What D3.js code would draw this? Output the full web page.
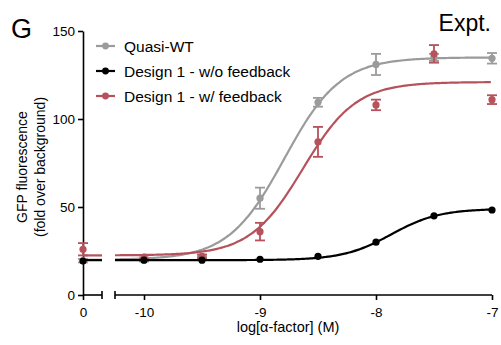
<!DOCTYPE html>
<html>
<head>
<meta charset="utf-8">
<script src="https://cdn.jsdelivr.net/npm/d3@7"></script>
<style>
  body { margin: 0; background: #fff; }
  svg { display: block; font-family: "Liberation Sans", Arial, sans-serif; }
</style>
</head>
<body>
<svg id="chart" width="501" height="345"></svg>
<script>
// log[alpha-factor] doses, 0 = no alpha-factor (drawn on the split-off segment)
var doses = [0, -10, -9.5, -9, -8.5, -8, -7.5, -7];

var wtMean = [19.5, 20, 21, 55, 109.5, 131, 135, 134.5];
var wtErr = [1, 1, 1, 6, 2.5, 6, 2, 3];
var noFbMean = [19.3, 19.8, 19.8, 20.3, 22, 30, 45, 48.3];
var noFbErr = [0, 0, 0, 0, 0, 0, 0, 0];
var fbMean = [26, 21.5, 22, 36, 87, 108, 137, 111];
var fbErr = [3.5, 1, 1, 5, 8.5, 3, 5, 2.5];

// Hill fit: [bottom, top, logEC50, slope]
var wtFit = [20, 135, -8.79, 1.8];
var noFbFit = [19.8, 49, -7.87, 2.1];
var fbFit = [22.5, 121, -8.63, 1.9];

var seriesNames = ["Quasi-WT", "Design 1 - w/o feedback", "Design 1 - w/ feedback"];
var seriesColors = ["#9b9b9b", "#000000", "#b5525c"];
var yTicks = [0, 50, 100, 150];
var xTicks = [-10, -9, -8, -7];

var svg = d3.select("#chart");

var y = d3.scaleLinear().domain([0, 150]).range([295, 31]);
var x = d3.scaleLinear().domain([-10.25, -7]).range([115, 492]);
var xZero = d3.scaleLinear().domain([0, 1]).range([83, 102]);

function xPos(d) { return d === 0 ? xZero(0) : x(d); }
function hill(p, lx) { return p[0] + (p[1] - p[0]) / (1 + Math.pow(10, (p[2] - lx) * p[3])); }
var plain = function (d) { return String(d); };

// axes
var yAxis = svg.append("g").attr("transform", "translate(83,0)")
  .call(d3.axisLeft(y).tickValues(yTicks).tickFormat(plain).tickSize(5).tickSizeOuter(0));
var xAxis = svg.append("g").attr("transform", "translate(0,295)")
  .call(d3.axisBottom(x).tickValues(xTicks).tickFormat(plain).tickSize(5).tickSizeOuter(0));
var xAxis0 = svg.append("g").attr("transform", "translate(0,295)")
  .call(d3.axisBottom(xZero).tickValues([0]).tickFormat(plain).tickSize(5).tickSizeOuter(0));
xAxis.select(".domain").remove();
xAxis0.select(".domain").remove();

[yAxis, xAxis, xAxis0].forEach(function (g) {
  g.selectAll("path, line").attr("stroke", "#000").attr("stroke-width", 1.6);
  g.selectAll("text").attr("font-size", 13.5).attr("fill", "#000")
    .attr("font-family", "'Liberation Sans', Arial, sans-serif");
});
xAxis.selectAll("text").attr("dy", "1.05em");
xAxis0.selectAll("text").attr("dy", "1.05em");

// broken x axis segments
var seg = svg.append("g").attr("stroke", "#000").attr("stroke-width", 1.6);
seg.append("line").attr("x1", xZero(0)).attr("x2", xZero(1)).attr("y1", y(0)).attr("y2", y(0));
seg.append("line").attr("x1", xZero(1)).attr("x2", xZero(1)).attr("y1", y(0) - 4).attr("y2", y(0) + 4);
seg.append("line").attr("x1", x(-10.25)).attr("x2", x(-7)).attr("y1", y(0)).attr("y2", y(0));
seg.append("line").attr("x1", x(-10.25)).attr("x2", x(-10.25)).attr("y1", y(0) - 4).attr("y2", y(0) + 4);

// fitted curves
var grid = d3.range(-10.25, -6.999, 0.02);
var line = d3.line().x(function (d) { return x(d[0]); }).y(function (d) { return y(d[1]); }).curve(d3.curveBasis);

var series = [
  { mean: wtMean, err: wtErr, fit: wtFit, color: seriesColors[0] },
  { mean: fbMean, err: fbErr, fit: fbFit, color: seriesColors[2] },
  { mean: noFbMean, err: noFbErr, fit: noFbFit, color: seriesColors[1] }
];

series.forEach(function (s) {
  var g = svg.append("g");
  g.append("path")
    .attr("d", line(grid.map(function (lx) { return [lx, hill(s.fit, lx)]; })))
    .attr("fill", "none").attr("stroke", s.color).attr("stroke-width", 2.2);
  // baseline piece on the zero-dose segment
  g.append("line")
    .attr("x1", xZero(0)).attr("x2", xZero(1))
    .attr("y1", y(s.fit[0])).attr("y2", y(s.fit[0]))
    .attr("stroke", s.color).attr("stroke-width", 2.2);

  var pts = doses.map(function (d, i) { return { d: d, m: s.mean[i], e: s.err[i] }; });
  var eb = g.selectAll(".eb").data(pts.filter(function (p) { return p.e > 0; })).enter().append("g")
    .attr("stroke", s.color).attr("stroke-width", 1.8);
  eb.append("line")
    .attr("x1", function (p) { return xPos(p.d); }).attr("x2", function (p) { return xPos(p.d); })
    .attr("y1", function (p) { return y(p.m - p.e); }).attr("y2", function (p) { return y(p.m + p.e); });
  eb.append("line")
    .attr("x1", function (p) { return xPos(p.d) - 5; }).attr("x2", function (p) { return xPos(p.d) + 5; })
    .attr("y1", function (p) { return y(p.m + p.e); }).attr("y2", function (p) { return y(p.m + p.e); });
  eb.append("line")
    .attr("x1", function (p) { return xPos(p.d) - 5; }).attr("x2", function (p) { return xPos(p.d) + 5; })
    .attr("y1", function (p) { return y(p.m - p.e); }).attr("y2", function (p) { return y(p.m - p.e); });

  g.selectAll("circle").data(pts).enter().append("circle")
    .attr("cx", function (p) { return xPos(p.d); })
    .attr("cy", function (p) { return y(p.m); })
    .attr("r", 3.6).attr("fill", s.color);
});

// legend
var leg = svg.append("g");
seriesNames.forEach(function (name, i) {
  var ly = 46 + i * 25;
  leg.append("line").attr("x1", 96).attr("x2", 115).attr("y1", ly).attr("y2", ly)
    .attr("stroke", seriesColors[i]).attr("stroke-width", 2.2);
  leg.append("circle").attr("cx", 105.5).attr("cy", ly).attr("r", 3.4).attr("fill", seriesColors[i]);
  leg.append("text").attr("x", 124).attr("y", ly + 5.5).attr("font-size", 15.5).text(name);
});

// titles
svg.append("text").attr("x", 11).attr("y", 38).attr("font-size", 27).text("G");
svg.append("text").attr("x", 491).attr("y", 31).attr("font-size", 23).attr("text-anchor", "end").text("Expt.");
svg.append("text").attr("x", 288).attr("y", 332).attr("font-size", 14.5).attr("text-anchor", "middle").text("log[α-factor] (M)");
svg.append("text").attr("transform", "translate(27,167) rotate(-90)").attr("font-size", 14)
  .attr("text-anchor", "middle").text("GFP fluorescence");
svg.append("text").attr("transform", "translate(45,167) rotate(-90)").attr("font-size", 14)
  .attr("text-anchor", "middle").text("(fold over background)");
</script>
</body>
</html>
